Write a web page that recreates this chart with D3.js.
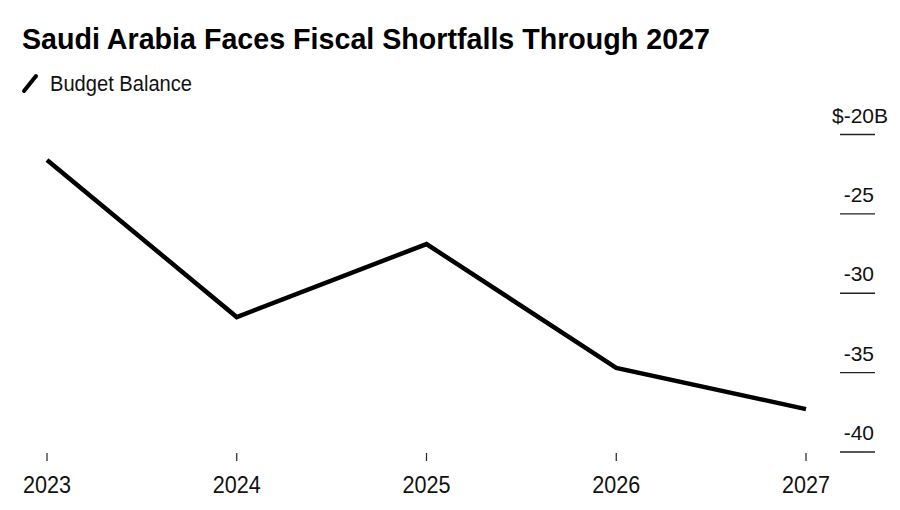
<!DOCTYPE html>
<html>
<head>
<meta charset="utf-8">
<script src="https://cdn.jsdelivr.net/npm/d3@7"></script>
<style>
  html, body { margin: 0; padding: 0; background: #fff; }
  svg text { font-family: "Liberation Sans", Arial, Helvetica, sans-serif; }
</style>
</head>
<body>
<svg id="chart" width="900" height="510"></svg>
<script>
const years = ["2023", "2024", "2025", "2026", "2027"];
const budgetBalance = [-21.6, -31.5, -26.9, -34.7, -37.3];
const yTicks = [-20, -25, -30, -35, -40];
const title = "Saudi Arabia Faces Fiscal Shortfalls Through 2027";
const seriesName = "Budget Balance";

const svg = d3.select("#chart");
svg.append("rect").attr("width", 900).attr("height", 510).attr("fill", "#fff");

const x = d3.scalePoint().domain(years).range([47, 806]);
const y = d3.scaleLinear().domain([-20, -40]).range([134.5, 452]);

// Title
svg.append("text")
  .attr("x", 22).attr("y", 49)
  .attr("font-size", 29).attr("font-weight", "bold").attr("fill", "#000")
  .attr("textLength", 688).attr("lengthAdjust", "spacingAndGlyphs")
  .text(title);

// Legend
svg.append("line")
  .attr("x1", 24).attr("y1", 91).attr("x2", 36).attr("y2", 76)
  .attr("stroke", "#000").attr("stroke-width", 4).attr("stroke-linecap", "round");
svg.append("text")
  .attr("x", 50).attr("y", 91)
  .attr("font-size", 22).attr("fill", "#111")
  .attr("textLength", 142).attr("lengthAdjust", "spacingAndGlyphs")
  .text(seriesName);

// Y axis (right side)
const yAxis = svg.append("g");
yTicks.forEach(t => {
  const gy = y(t);
  yAxis.append("line")
    .attr("x1", 840).attr("x2", 875).attr("y1", gy).attr("y2", gy)
    .attr("stroke", "#222").attr("stroke-width", 1.3);
  const lab = yAxis.append("text")
    .attr("x", 874).attr("y", gy - 12)
    .attr("font-size", 21).attr("fill", "#111")
    .attr("text-anchor", "end")
    .text(String(t));
  if (t === -20) {
    yAxis.append("text")
      .attr("x", 874 - lab.node().getComputedTextLength()).attr("y", gy - 12)
      .attr("font-size", 21).attr("fill", "#111").attr("text-anchor", "end")
      .text("$");
    yAxis.append("text")
      .attr("x", 874).attr("y", gy - 12)
      .attr("font-size", 21).attr("fill", "#111")
      .text("B");
  }
});

// X axis
const xAxis = svg.append("g");
years.forEach(yr => {
  xAxis.append("line")
    .attr("x1", x(yr)).attr("x2", x(yr)).attr("y1", 453).attr("y2", 461)
    .attr("stroke", "#222").attr("stroke-width", 1.2);
  xAxis.append("text")
    .attr("x", x(yr) - 24).attr("y", 493)
    .attr("font-size", 23).attr("fill", "#111")
    .attr("textLength", 48).attr("lengthAdjust", "spacingAndGlyphs")
    .text(yr);
});

// Line
const data = years.map((yr, i) => ({ yr, v: budgetBalance[i] }));
svg.append("path")
  .datum(data)
  .attr("fill", "none").attr("stroke", "#000").attr("stroke-width", 4.5)
  .attr("stroke-linejoin", "miter")
  .attr("d", d3.line().x(d => x(d.yr)).y(d => y(d.v)));
</script>
</body>
</html>
